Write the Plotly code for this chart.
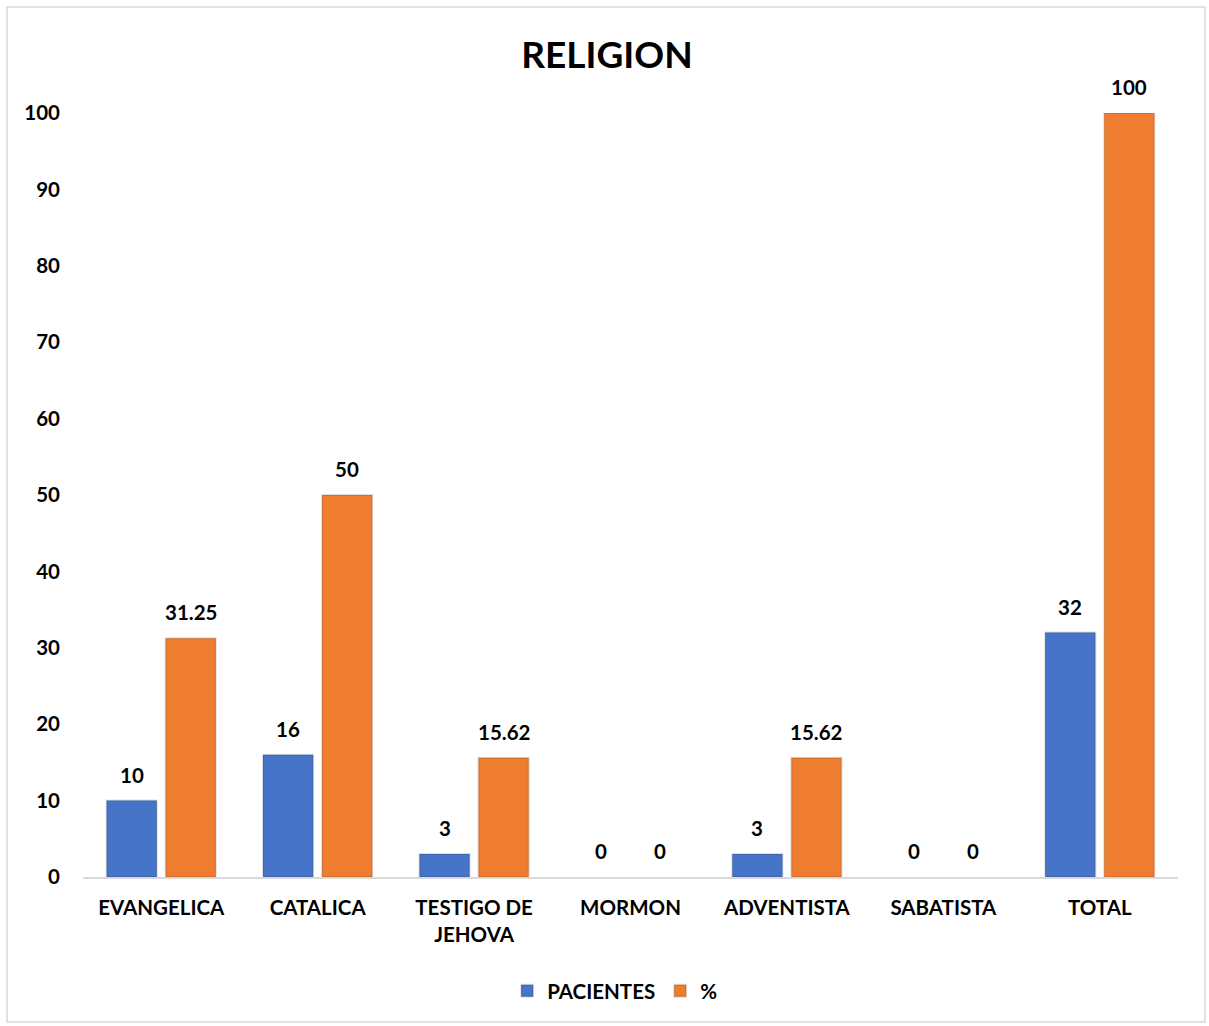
import plotly.graph_objects as go

categories = ["EVANGELICA", "CATALICA", "TESTIGO DE<br>JEHOVA", "MORMON",
              "ADVENTISTA", "SABATISTA", "TOTAL"]
pacientes = [10, 16, 3, 0, 3, 0, 32]
porcentaje = [31.25, 50, 15.62, 0, 15.62, 0, 100]
y_ticks = [0, 10, 20, 30, 40, 50, 60, 70, 80, 90, 100]

FONT = "Lato"
FS = 20.5
W, H = 1209, 1026
L, R, T, B = 83, 31, 113, 149
pw, ph = W - L - R, H - T - B

series = [
    ("PACIENTES", pacientes, "#4674C8", -29.5, lambda v: str(v)),
    ("%", porcentaje, "#EF7D30", 29.5, lambda v: f"{v:g}"),
]

fig = go.Figure()
for name, vals, color, dx, fmt in series:
    fig.add_trace(go.Bar(
        x=categories, y=vals, name=name,
        marker=dict(color=color,
                    line=dict(color="rgba(0,0,0,0.12)",
                              width=[2 if v > 0 else 0 for v in vals])),
        cliponaxis=False,
    ))
    # value labels sitting above each bar
    for c, v in zip(categories, vals):
        fig.add_annotation(x=c, y=v, text=fmt(v), showarrow=False,
                           xshift=dx, yshift=26, yanchor="middle",
                           font=dict(family=FONT, size=FS, color="black",
                                     weight="bold"))

# light frame around the whole chart
fig.add_shape(type="rect", xref="paper", yref="paper",
              x0=(7 - L) / pw, x1=(W - 4 - L) / pw,
              y0=-(H - 4 - (H - B)) / ph, y1=(T - 7) / ph + 1,
              line=dict(color="#d9d9d9", width=1.5), layer="below")

fig.update_layout(
    width=W, height=H,
    margin=dict(l=L, r=R, t=T, b=B),
    paper_bgcolor="white", plot_bgcolor="white",
    barmode="group", bargap=0.245, bargroupgap=0.15,
    title=dict(text="RELIGION", x=0.502, xanchor="center", y=0.946, yanchor="middle",
               font=dict(family=FONT, size=37, color="black", weight="bold")),
    font=dict(family=FONT, size=FS, color="black"),
    xaxis=dict(showline=True, linecolor="#d9d9d9", linewidth=1.5, ticks="",
               ticklabelstandoff=12,
               tickfont=dict(family=FONT, size=FS, color="black", weight="bold")),
    yaxis=dict(range=[0, 100], tickvals=y_ticks, showgrid=False, zeroline=False,
               showline=False, ticks="", ticklabelstandoff=22,
               tickfont=dict(family=FONT, size=FS, color="black", weight="bold")),
    legend=dict(orientation="h", x=0.486, xanchor="center", y=-0.149, yanchor="middle",
                font=dict(family=FONT, size=FS, color="black", weight="bold"),
                itemwidth=30, tracegroupgap=0),
    showlegend=True,
)

fig.write_html("out.html")
